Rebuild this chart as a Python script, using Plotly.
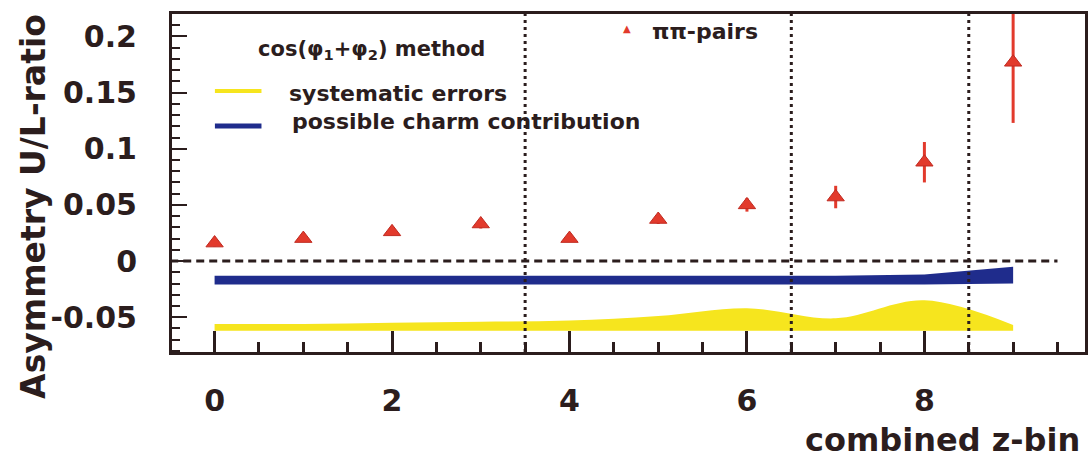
import plotly.graph_objects as go

# ---- data ----
z_bins = [0, 1, 2, 3, 4, 5, 6, 7, 8, 9]
asym = [0.016, 0.020, 0.026, 0.033, 0.020, 0.037, 0.050, 0.057, 0.088, 0.177]
asym_err = [0.003, 0.003, 0.003, 0.004, 0.003, 0.004, 0.006, 0.010, 0.018, 0.054]

charm_lo = [-0.021, -0.021, -0.021, -0.021, -0.021, -0.021, -0.021, -0.021, -0.021, -0.020]
charm_hi = [-0.013, -0.013, -0.013, -0.013, -0.013, -0.013, -0.013, -0.013, -0.012, -0.005]

syst_lo = [-0.062, -0.062, -0.062, -0.062, -0.062, -0.062, -0.062, -0.062, -0.062, -0.062]
syst_hi = [-0.056, -0.056, -0.055, -0.054, -0.053, -0.049, -0.042, -0.051, -0.035, -0.057]

bin_boundaries = [3.5, 6.5, 8.5]
zero_line_x = [-0.5, 9.5]
zero_line_y = [0, 0]

x_tickvals = [0, 2, 4, 6, 8]
y_tickvals = [0.2, 0.15, 0.1, 0.05, 0, -0.05]
y_ticktext = ["0.2", "0.15", "0.1", "0.05", "0", "-0.05"]

DARK = "#2b1d1d"
RED = "#e23a2c"
BLUE = "#1f2c8c"
YELLOW = "#f6e51e"
FONT = "DejaVu Sans"

fig = go.Figure()

# systematic band
fig.add_trace(go.Scatter(x=z_bins, y=syst_lo, mode="lines", line=dict(width=0, shape="spline"),
                         showlegend=False, hoverinfo="skip"))
fig.add_trace(go.Scatter(x=z_bins, y=syst_hi, mode="lines", line=dict(width=0, shape="spline"),
                         fill="tonexty", fillcolor=YELLOW, showlegend=False, hoverinfo="skip"))
# charm band
fig.add_trace(go.Scatter(x=z_bins, y=charm_lo, mode="lines", line=dict(width=0),
                         showlegend=False, hoverinfo="skip"))
fig.add_trace(go.Scatter(x=z_bins, y=charm_hi, mode="lines", line=dict(width=0),
                         fill="tonexty", fillcolor=BLUE, showlegend=False, hoverinfo="skip"))

# zero line
fig.add_trace(go.Scatter(x=zero_line_x, y=zero_line_y, mode="lines",
                         line=dict(color=DARK, width=3, dash="8px,5px"),
                         showlegend=False, hoverinfo="skip"))

# bin boundaries
for b in bin_boundaries:
    fig.add_shape(type="line", xref="x", yref="paper", x0=b, x1=b, y0=0, y1=1,
                  line=dict(color=DARK, width=3, dash="3px,4px"))

# data points
fig.add_trace(go.Scatter(x=z_bins, y=asym, mode="markers",
                         marker=dict(symbol="triangle-up", size=15, color=RED,
                                     line=dict(color="#c02a20", width=1)),
                         error_y=dict(type="data", array=asym_err, color=RED, thickness=3, width=0),
                         showlegend=False))

# legend-like annotations
fig.add_annotation(xref="paper", yref="paper", x=0.218, y=0.893, xanchor="center", yanchor="middle",
                   text="cos(φ<sub>1</sub>+φ<sub>2</sub>) method", showarrow=False,
                   font=dict(family=FONT, size=21, color=DARK, weight="bold"))
fig.add_shape(type="line", xref="paper", yref="paper", x0=0.047, x1=0.098, y0=0.772, y1=0.772,
              line=dict(color=YELLOW, width=4))
fig.add_annotation(xref="paper", yref="paper", x=0.1255, y=0.766, xanchor="left", yanchor="middle",
                   text="systematic errors", showarrow=False,
                   font=dict(family=FONT, size=22, color=DARK, weight="bold"))
fig.add_shape(type="line", xref="paper", yref="paper", x0=0.047, x1=0.098, y0=0.669, y1=0.669,
              line=dict(color=BLUE, width=5))
fig.add_annotation(xref="paper", yref="paper", x=0.129, y=0.683, xanchor="left", yanchor="middle",
                   text="possible charm contribution", showarrow=False,
                   font=dict(family=FONT, size=22, color=DARK, weight="bold"))
fig.add_annotation(xref="paper", yref="paper", x=0.498, y=0.956, xanchor="center", yanchor="middle",
                   text="▲", showarrow=False,
                   font=dict(family=FONT, size=10, color=RED))
fig.add_annotation(xref="paper", yref="paper", x=0.524, y=0.947, xanchor="left", yanchor="middle",
                   text="ππ-pairs", showarrow=False,
                   font=dict(family=FONT, size=22, color=DARK, weight="bold"))

# axis titles
fig.add_annotation(xref="paper", yref="paper", x=-0.152, y=0.43, xanchor="center", yanchor="middle",
                   textangle=-90, text="Asymmetry U/L-ratio", showarrow=False,
                   font=dict(family=FONT, size=33, color=DARK, weight="bold"))
fig.add_annotation(xref="paper", yref="paper", x=0.844, y=-0.26, xanchor="center", yanchor="middle",
                   text="combined z-bin", showarrow=False,
                   font=dict(family=FONT, size=32, color=DARK, weight="bold"))

fig.update_xaxes(range=[-0.48, 9.81], showgrid=False, zeroline=False,
                 showline=True, linecolor=DARK, linewidth=3, mirror=True,
                 ticks="inside", ticklen=21, tickwidth=3, tickcolor=DARK,
                 tickvals=x_tickvals, ticklabelstandoff=20,
                 tickfont=dict(family=FONT, size=30, color=DARK, weight="bold"),
                 minor=dict(tick0=0, dtick=0.5, ticks="inside", ticklen=10, tickwidth=3,
                            tickcolor=DARK, showgrid=False))
fig.update_yaxes(range=[-0.081, 0.22], showgrid=False, zeroline=False,
                 showline=True, linecolor=DARK, linewidth=3, mirror=True,
                 ticks="inside", ticklen=15, tickwidth=2, tickcolor=DARK,
                 tickvals=y_tickvals, ticktext=y_ticktext, ticklabelstandoff=26,
                 tickfont=dict(family=FONT, size=30, color=DARK, weight="bold"),
                 minor=dict(tick0=0, dtick=0.01, ticks="inside", ticklen=8, tickwidth=2,
                            tickcolor=DARK, showgrid=False))

fig.update_layout(width=1091, height=461, margin=dict(l=172, r=3, t=14, b=109),
                  paper_bgcolor="white", plot_bgcolor="white", showlegend=False)

fig.write_html("out.html", config={"displayModeBar": False},
               post_script="document.body.style.margin='0';document.body.style.overflow='hidden';")
